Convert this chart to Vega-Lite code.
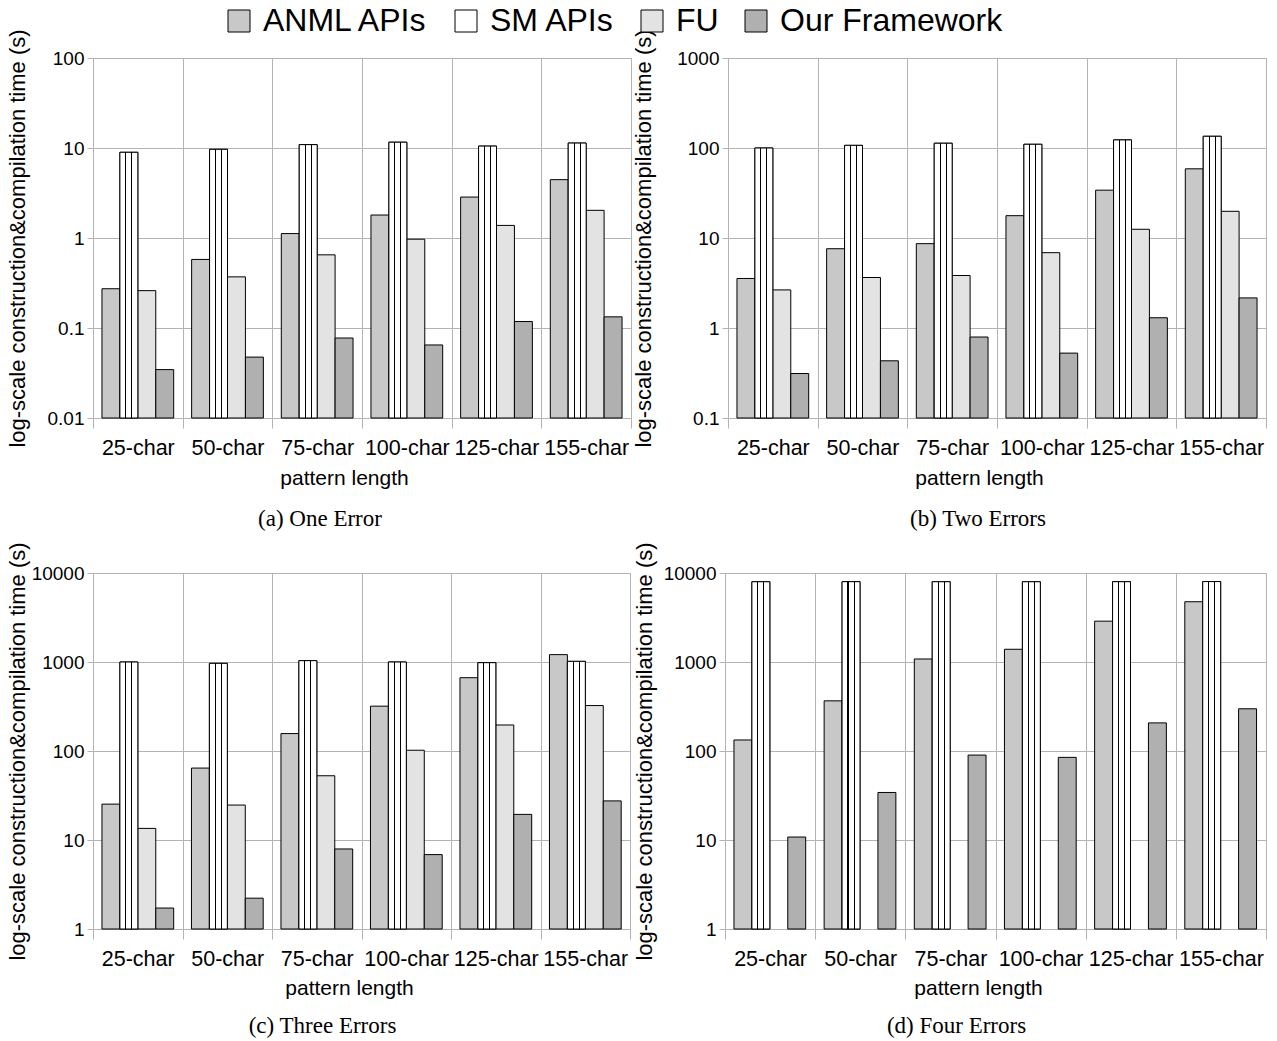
{
  "$schema": "https://vega.github.io/schema/vega-lite/v6.json",
  "background": "white",
  "padding": {"left": 5, "top": 5, "right": 5, "bottom": 5},
  "config": {
    "font": "Liberation Sans",
    "view": {"stroke": "#b3b3b3"},
    "axis": {
      "labelFont": "Liberation Sans", "titleFont": "Liberation Sans",
      "labelColor": "black", "titleColor": "black",
      "labelFontSize": 19, "titleFontSize": 21, "titleFontWeight": "normal",
      "gridColor": "#b3b3b3", "domainColor": "#b3b3b3", "tickColor": "#b3b3b3", "gridOpacity": 1
    },
    "axisX": {"labelFontSize": 21.5},
    "axisY": {"titleFontSize": 22}
  },
  "datasets": {
    "d": [
      {"panel": "a", "length": "25-char", "series": "ANML APIs", "value": 0.273},
      {"panel": "a", "length": "50-char", "series": "ANML APIs", "value": 0.578},
      {"panel": "a", "length": "75-char", "series": "ANML APIs", "value": 1.12},
      {"panel": "a", "length": "100-char", "series": "ANML APIs", "value": 1.8},
      {"panel": "a", "length": "125-char", "series": "ANML APIs", "value": 2.85},
      {"panel": "a", "length": "155-char", "series": "ANML APIs", "value": 4.45},
      {"panel": "a", "length": "25-char", "series": "SM APIs", "value": 8.96},
      {"panel": "a", "length": "50-char", "series": "SM APIs", "value": 9.67},
      {"panel": "a", "length": "75-char", "series": "SM APIs", "value": 10.9},
      {"panel": "a", "length": "100-char", "series": "SM APIs", "value": 11.6},
      {"panel": "a", "length": "125-char", "series": "SM APIs", "value": 10.5},
      {"panel": "a", "length": "155-char", "series": "SM APIs", "value": 11.35},
      {"panel": "a", "length": "25-char", "series": "FU", "value": 0.26},
      {"panel": "a", "length": "50-char", "series": "FU", "value": 0.37},
      {"panel": "a", "length": "75-char", "series": "FU", "value": 0.65},
      {"panel": "a", "length": "100-char", "series": "FU", "value": 0.97},
      {"panel": "a", "length": "125-char", "series": "FU", "value": 1.38},
      {"panel": "a", "length": "155-char", "series": "FU", "value": 2.03},
      {"panel": "a", "length": "25-char", "series": "Our Framework", "value": 0.0345},
      {"panel": "a", "length": "50-char", "series": "Our Framework", "value": 0.0475},
      {"panel": "a", "length": "75-char", "series": "Our Framework", "value": 0.0774},
      {"panel": "a", "length": "100-char", "series": "Our Framework", "value": 0.0648},
      {"panel": "a", "length": "125-char", "series": "Our Framework", "value": 0.118},
      {"panel": "a", "length": "155-char", "series": "Our Framework", "value": 0.133},

      {"panel": "b", "length": "25-char", "series": "ANML APIs", "value": 3.55},
      {"panel": "b", "length": "50-char", "series": "ANML APIs", "value": 7.6},
      {"panel": "b", "length": "75-char", "series": "ANML APIs", "value": 8.65},
      {"panel": "b", "length": "100-char", "series": "ANML APIs", "value": 17.7},
      {"panel": "b", "length": "125-char", "series": "ANML APIs", "value": 34},
      {"panel": "b", "length": "155-char", "series": "ANML APIs", "value": 58.7},
      {"panel": "b", "length": "25-char", "series": "SM APIs", "value": 100},
      {"panel": "b", "length": "50-char", "series": "SM APIs", "value": 107},
      {"panel": "b", "length": "75-char", "series": "SM APIs", "value": 113},
      {"panel": "b", "length": "100-char", "series": "SM APIs", "value": 110},
      {"panel": "b", "length": "125-char", "series": "SM APIs", "value": 123},
      {"panel": "b", "length": "155-char", "series": "SM APIs", "value": 135},
      {"panel": "b", "length": "25-char", "series": "FU", "value": 2.65},
      {"panel": "b", "length": "50-char", "series": "FU", "value": 3.64},
      {"panel": "b", "length": "75-char", "series": "FU", "value": 3.83},
      {"panel": "b", "length": "100-char", "series": "FU", "value": 6.87},
      {"panel": "b", "length": "125-char", "series": "FU", "value": 12.5},
      {"panel": "b", "length": "155-char", "series": "FU", "value": 19.8},
      {"panel": "b", "length": "25-char", "series": "Our Framework", "value": 0.312},
      {"panel": "b", "length": "50-char", "series": "Our Framework", "value": 0.432},
      {"panel": "b", "length": "75-char", "series": "Our Framework", "value": 0.794},
      {"panel": "b", "length": "100-char", "series": "Our Framework", "value": 0.526},
      {"panel": "b", "length": "125-char", "series": "Our Framework", "value": 1.3},
      {"panel": "b", "length": "155-char", "series": "Our Framework", "value": 2.16},

      {"panel": "c", "length": "25-char", "series": "ANML APIs", "value": 25.3},
      {"panel": "c", "length": "50-char", "series": "ANML APIs", "value": 64.3},
      {"panel": "c", "length": "75-char", "series": "ANML APIs", "value": 157},
      {"panel": "c", "length": "100-char", "series": "ANML APIs", "value": 319},
      {"panel": "c", "length": "125-char", "series": "ANML APIs", "value": 666},
      {"panel": "c", "length": "155-char", "series": "ANML APIs", "value": 1210},
      {"panel": "c", "length": "25-char", "series": "SM APIs", "value": 1000},
      {"panel": "c", "length": "50-char", "series": "SM APIs", "value": 966},
      {"panel": "c", "length": "75-char", "series": "SM APIs", "value": 1035},
      {"panel": "c", "length": "100-char", "series": "SM APIs", "value": 1000},
      {"panel": "c", "length": "125-char", "series": "SM APIs", "value": 983},
      {"panel": "c", "length": "155-char", "series": "SM APIs", "value": 1017},
      {"panel": "c", "length": "25-char", "series": "FU", "value": 13.5},
      {"panel": "c", "length": "50-char", "series": "FU", "value": 24.7},
      {"panel": "c", "length": "75-char", "series": "FU", "value": 52.7},
      {"panel": "c", "length": "100-char", "series": "FU", "value": 102},
      {"panel": "c", "length": "125-char", "series": "FU", "value": 196},
      {"panel": "c", "length": "155-char", "series": "FU", "value": 324},
      {"panel": "c", "length": "25-char", "series": "Our Framework", "value": 1.72},
      {"panel": "c", "length": "50-char", "series": "Our Framework", "value": 2.22},
      {"panel": "c", "length": "75-char", "series": "Our Framework", "value": 7.93},
      {"panel": "c", "length": "100-char", "series": "Our Framework", "value": 6.85},
      {"panel": "c", "length": "125-char", "series": "Our Framework", "value": 19.4},
      {"panel": "c", "length": "155-char", "series": "Our Framework", "value": 27.5},

      {"panel": "d", "length": "25-char", "series": "ANML APIs", "value": 133},
      {"panel": "d", "length": "50-char", "series": "ANML APIs", "value": 366},
      {"panel": "d", "length": "75-char", "series": "ANML APIs", "value": 1081},
      {"panel": "d", "length": "100-char", "series": "ANML APIs", "value": 1390},
      {"panel": "d", "length": "125-char", "series": "ANML APIs", "value": 2876},
      {"panel": "d", "length": "155-char", "series": "ANML APIs", "value": 4756},
      {"panel": "d", "length": "25-char", "series": "SM APIs", "value": 7980},
      {"panel": "d", "length": "50-char", "series": "SM APIs", "value": 7990},
      {"panel": "d", "length": "75-char", "series": "SM APIs", "value": 7980},
      {"panel": "d", "length": "100-char", "series": "SM APIs", "value": 7980},
      {"panel": "d", "length": "125-char", "series": "SM APIs", "value": 7990},
      {"panel": "d", "length": "155-char", "series": "SM APIs", "value": 8010},
      {"panel": "d", "length": "25-char", "series": "Our Framework", "value": 10.8},
      {"panel": "d", "length": "50-char", "series": "Our Framework", "value": 34.2},
      {"panel": "d", "length": "75-char", "series": "Our Framework", "value": 90},
      {"panel": "d", "length": "100-char", "series": "Our Framework", "value": 84.8},
      {"panel": "d", "length": "125-char", "series": "Our Framework", "value": 207},
      {"panel": "d", "length": "155-char", "series": "Our Framework", "value": 298}
    ]
  },
  "data": {"name": "d"},
  "columns": 2,
  "align": "none",
  "spacing": {"row": 10, "column": 0},
  "concat": [
    {
      "width": 538, "height": 360,
      "title": {"text": "(a) One Error", "orient": "bottom", "font": "Liberation Serif", "fontSize": 23, "fontWeight": "normal", "color": "black", "offset": 19, "dx": -42},
      "transform": [{"filter": "datum.panel == 'a'"}],
      "encoding": {
        "x": {"field": "length", "type": "nominal", "sort": ["25-char", "50-char", "75-char", "100-char", "125-char", "155-char"],
              "scale": {"paddingInner": 0, "paddingOuter": 0},
              "axis": {"title": "pattern length", "titleX": 251, "labelAngle": 0, "labelOverlap": false, "tickBand": "extent", "tickSize": 10, "labelPadding": 9, "titlePadding": 9, "grid": true, "domain": false}},
        "xOffset": {"field": "series", "type": "nominal", "scale": {"domain": ["ANML APIs", "SM APIs", "FU", "Our Framework"], "paddingOuter": 0.5, "paddingInner": 0}},
        "y": {"field": "value", "type": "quantitative", "scale": {"type": "log", "domain": [0.01, 100], "nice": false},
              "axis": {"title": "log-scale construction&compilation time (s)", "values": [0.01, 0.1, 1, 10, 100], "format": "~g", "tickSize": 6, "labelPadding": 3, "titlePadding": 18, "grid": true, "domain": false}},
        "y2": {"datum": 0.01}
      },
      "layer": [
        {"mark": {"type": "bar", "stroke": "black", "strokeWidth": 1},
         "encoding": {"color": {"field": "series", "type": "nominal",
           "scale": {"domain": ["ANML APIs", "SM APIs", "FU", "Our Framework"], "range": ["#c8c8c8", "#ffffff", "#e3e3e3", "#b0b0b0"]},
           "legend": {"orient": "none", "legendX": 130, "legendY": -53, "direction": "horizontal", "title": null, "symbolType": "square", "symbolSize": 484, "symbolStrokeColor": "black", "symbolStrokeWidth": 1, "labelFontSize": 32, "labelLimit": 500, "labelFont": "Liberation Sans", "labelColor": "black", "columnPadding": 21, "labelOffset": 8}}}},
        {"transform": [{"filter": "datum.series == 'SM APIs'"}],
         "mark": {"type": "bar", "stroke": "black", "strokeWidth": 1,
           "fill": {"gradient": "linear", "x1": 0, "y1": 0, "x2": 1, "y2": 0, "stops": [
             {"offset": 0, "color": "white"}, {"offset": 0.3, "color": "white"}, {"offset": 0.3, "color": "black"}, {"offset": 0.36, "color": "black"}, {"offset": 0.36, "color": "white"},
             {"offset": 0.64, "color": "white"}, {"offset": 0.64, "color": "black"}, {"offset": 0.7, "color": "black"}, {"offset": 0.7, "color": "white"}, {"offset": 1, "color": "white"}]}}}
      ]
    },
    {
      "width": 538, "height": 360,
      "title": {"text": "(b) Two Errors", "orient": "bottom", "font": "Liberation Serif", "fontSize": 23, "fontWeight": "normal", "color": "black", "offset": 19, "dx": -19},
      "transform": [{"filter": "datum.panel == 'b'"}],
      "encoding": {
        "x": {"field": "length", "type": "nominal", "sort": ["25-char", "50-char", "75-char", "100-char", "125-char", "155-char"],
              "scale": {"paddingInner": 0, "paddingOuter": 0},
              "axis": {"title": "pattern length", "titleX": 251, "labelAngle": 0, "labelOverlap": false, "tickBand": "extent", "tickSize": 10, "labelPadding": 9, "titlePadding": 9, "grid": true, "domain": false}},
        "xOffset": {"field": "series", "type": "nominal", "scale": {"domain": ["ANML APIs", "SM APIs", "FU", "Our Framework"], "paddingOuter": 0.5, "paddingInner": 0}},
        "y": {"field": "value", "type": "quantitative", "scale": {"type": "log", "domain": [0.1, 1000], "nice": false},
              "axis": {"title": "log-scale construction&compilation time (s)", "values": [0.1, 1, 10, 100, 1000], "format": "~g", "tickSize": 6, "labelPadding": 3, "titlePadding": 21, "grid": true, "domain": false}},
        "y2": {"datum": 0.1}
      },
      "layer": [
        {"mark": {"type": "bar", "stroke": "black", "strokeWidth": 1},
         "encoding": {"color": {"field": "series", "type": "nominal",
           "scale": {"domain": ["ANML APIs", "SM APIs", "FU", "Our Framework"], "range": ["#c8c8c8", "#ffffff", "#e3e3e3", "#b0b0b0"]}}}},
        {"transform": [{"filter": "datum.series == 'SM APIs'"}],
         "mark": {"type": "bar", "stroke": "black", "strokeWidth": 1,
           "fill": {"gradient": "linear", "x1": 0, "y1": 0, "x2": 1, "y2": 0, "stops": [
             {"offset": 0, "color": "white"}, {"offset": 0.3, "color": "white"}, {"offset": 0.3, "color": "black"}, {"offset": 0.36, "color": "black"}, {"offset": 0.36, "color": "white"},
             {"offset": 0.64, "color": "white"}, {"offset": 0.64, "color": "black"}, {"offset": 0.7, "color": "black"}, {"offset": 0.7, "color": "white"}, {"offset": 1, "color": "white"}]}}}
      ]
    },
    {
      "width": 537, "height": 356,
      "title": {"text": "(c) Three Errors", "orient": "bottom", "font": "Liberation Serif", "fontSize": 23, "fontWeight": "normal", "color": "black", "offset": 16, "dx": -39},
      "transform": [{"filter": "datum.panel == 'c'"}],
      "encoding": {
        "x": {"field": "length", "type": "nominal", "sort": ["25-char", "50-char", "75-char", "100-char", "125-char", "155-char"],
              "scale": {"paddingInner": 0, "paddingOuter": 0},
              "axis": {"title": "pattern length", "titleX": 256, "labelAngle": 0, "labelOverlap": false, "tickBand": "extent", "tickSize": 10, "labelPadding": 9, "titlePadding": 8, "grid": true, "domain": false}},
        "xOffset": {"field": "series", "type": "nominal", "scale": {"domain": ["ANML APIs", "SM APIs", "FU", "Our Framework"], "paddingOuter": 0.5, "paddingInner": 0}},
        "y": {"field": "value", "type": "quantitative", "scale": {"type": "log", "domain": [1, 10000], "nice": false},
              "axis": {"title": "log-scale construction&compilation time (s)", "values": [1, 10, 100, 1000, 10000], "format": "~g", "tickSize": 6, "labelPadding": 3, "titlePadding": 2, "grid": true, "domain": false}},
        "y2": {"datum": 1}
      },
      "layer": [
        {"mark": {"type": "bar", "stroke": "black", "strokeWidth": 1},
         "encoding": {"color": {"field": "series", "type": "nominal",
           "scale": {"domain": ["ANML APIs", "SM APIs", "FU", "Our Framework"], "range": ["#c8c8c8", "#ffffff", "#e3e3e3", "#b0b0b0"]}}}},
        {"transform": [{"filter": "datum.series == 'SM APIs'"}],
         "mark": {"type": "bar", "stroke": "black", "strokeWidth": 1,
           "fill": {"gradient": "linear", "x1": 0, "y1": 0, "x2": 1, "y2": 0, "stops": [
             {"offset": 0, "color": "white"}, {"offset": 0.3, "color": "white"}, {"offset": 0.3, "color": "black"}, {"offset": 0.36, "color": "black"}, {"offset": 0.36, "color": "white"},
             {"offset": 0.64, "color": "white"}, {"offset": 0.64, "color": "black"}, {"offset": 0.7, "color": "black"}, {"offset": 0.7, "color": "white"}, {"offset": 1, "color": "white"}]}}}
      ]
    },
    {
      "width": 541, "height": 356,
      "title": {"text": "(d) Four Errors", "orient": "bottom", "font": "Liberation Serif", "fontSize": 23, "fontWeight": "normal", "color": "black", "offset": 16, "dx": -39},
      "transform": [{"filter": "datum.panel == 'd'"}],
      "encoding": {
        "x": {"field": "length", "type": "nominal", "sort": ["25-char", "50-char", "75-char", "100-char", "125-char", "155-char"],
              "scale": {"paddingInner": 0, "paddingOuter": 0},
              "axis": {"title": "pattern length", "titleX": 253, "labelAngle": 0, "labelOverlap": false, "tickBand": "extent", "tickSize": 10, "labelPadding": 9, "titlePadding": 8, "grid": true, "domain": false}},
        "xOffset": {"field": "series", "type": "nominal", "scale": {"domain": ["ANML APIs", "SM APIs", "FU", "Our Framework"], "paddingOuter": 0.5, "paddingInner": 0}},
        "y": {"field": "value", "type": "quantitative", "scale": {"type": "log", "domain": [1, 10000], "nice": false},
              "axis": {"title": "log-scale construction&compilation time (s)", "values": [1, 10, 100, 1000, 10000], "format": "~g", "tickSize": 6, "labelPadding": 3, "titlePadding": 7, "grid": true, "domain": false}},
        "y2": {"datum": 1}
      },
      "layer": [
        {"mark": {"type": "bar", "stroke": "black", "strokeWidth": 1},
         "encoding": {"color": {"field": "series", "type": "nominal",
           "scale": {"domain": ["ANML APIs", "SM APIs", "FU", "Our Framework"], "range": ["#c8c8c8", "#ffffff", "#e3e3e3", "#b0b0b0"]}}}},
        {"transform": [{"filter": "datum.series == 'SM APIs'"}],
         "mark": {"type": "bar", "stroke": "black", "strokeWidth": 1,
           "fill": {"gradient": "linear", "x1": 0, "y1": 0, "x2": 1, "y2": 0, "stops": [
             {"offset": 0, "color": "white"}, {"offset": 0.3, "color": "white"}, {"offset": 0.3, "color": "black"}, {"offset": 0.36, "color": "black"}, {"offset": 0.36, "color": "white"},
             {"offset": 0.64, "color": "white"}, {"offset": 0.64, "color": "black"}, {"offset": 0.7, "color": "black"}, {"offset": 0.7, "color": "white"}, {"offset": 1, "color": "white"}]}}}
      ]
    }
  ]
}
